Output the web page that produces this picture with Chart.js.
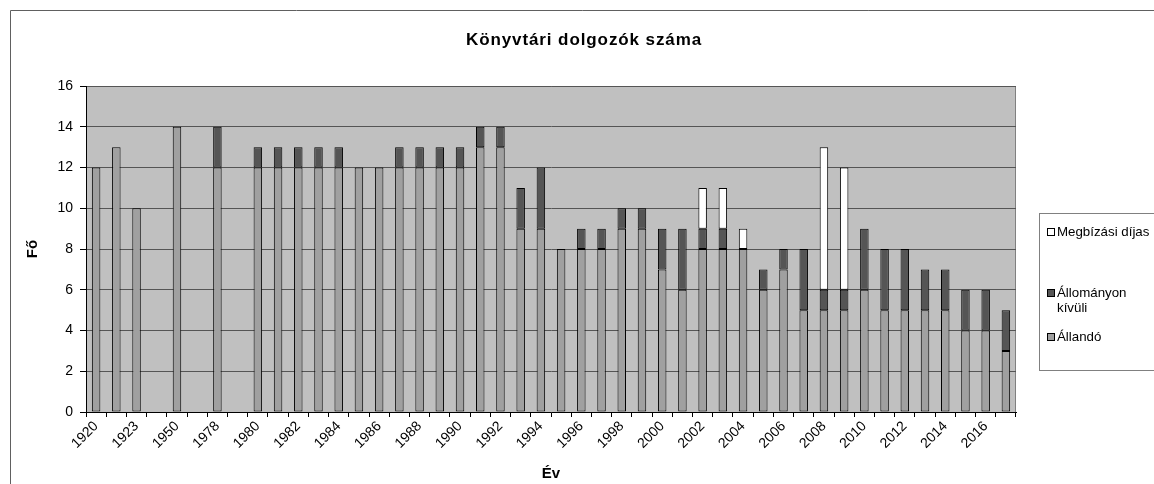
<!DOCTYPE html>
<html>
<head>
<meta charset="utf-8">
<script src="https://cdn.jsdelivr.net/npm/chart.js@4"></script>
<style>
  body { margin: 0; background: #fff; }
  #wrap { width: 1154px; height: 484px; }
</style>
</head>
<body>
<div id="wrap"><canvas id="chart" width="1154" height="484"></canvas></div>
<script>
const chartTitle = "Könyvtári dolgozók száma";

// years (unlabelled gaps in the original sheet kept as blank categories)
const years = ["1920", "1921", "1923", "", "1950", "", "1978", "",
  "1980", "1981", "1982", "1983", "1984", "1985", "1986", "1987", "1988", "1989",
  "1990", "1991", "1992", "1993", "1994", "1995", "1996", "1997", "1998", "1999",
  "2000", "2001", "2002", "2003", "2004", "2005", "2006", "2007", "2008", "2009",
  "2010", "2011", "2012", "2013", "2014", "2015", "2016", "2017"];

const allando = [12, 13, 10, null, 14, null, 12, null,
  12, 12, 12, 12, 12, 12, 12, 12, 12, 12,
  12, 13, 13, 9, 9, 8, 8, 8, 9, 9,
  7, 6, 8, 8, 8, 6, 7, 5, 5, 5,
  6, 5, 5, 5, 5, 4, 4, 3];

const kivuli = [null, null, null, null, null, null, 2, null,
  1, 1, 1, 1, 1, null, null, 1, 1, 1,
  1, 1, 1, 2, 3, null, 1, 1, 1, 1,
  2, 3, 1, 1, null, 1, 1, 3, 1, 1,
  3, 3, 3, 2, 2, 2, 2, 2];

const megbizasi = [null, null, null, null, null, null, null, null,
  null, null, null, null, null, null, null, null, null, null,
  null, null, null, null, null, null, null, null, null, null,
  null, null, 2, 2, 1, null, null, null, 7, 6,
  null, null, null, null, null, null, null, null];

const yTicks = [0, 2, 4, 6, 8, 10, 12, 14, 16];

const FONT = "'Liberation Sans', Arial, sans-serif";

// plot background, outer frame and title
const backdrop = {
  id: "backdrop",
  beforeDraw(chart) {
    const { ctx, chartArea: a } = chart;
    ctx.save();
    ctx.fillStyle = "#c0c0c0";
    ctx.fillRect(a.left, a.top, a.right - a.left, a.bottom - a.top);
    ctx.strokeStyle = "#808080";
    ctx.lineWidth = 1;
    ctx.beginPath();
    ctx.moveTo(a.left, a.top + 0.5);
    ctx.lineTo(a.right - 0.5, a.top + 0.5);
    ctx.lineTo(a.right - 0.5, a.bottom);
    ctx.stroke();

    ctx.strokeStyle = "#606060";
    ctx.beginPath();
    ctx.moveTo(10.5, chart.height);
    ctx.lineTo(10.5, 10.5);
    ctx.lineTo(chart.width, 10.5);
    ctx.stroke();

    ctx.fillStyle = "#000";
    ctx.font = "bold 17px " + FONT;
    ctx.letterSpacing = "0.9px";
    ctx.textAlign = "center";
    ctx.textBaseline = "middle";
    ctx.fillText(chartTitle, 584, 40);
    ctx.restore();
  }
};

// Excel-like legend box on the right
const boxLegend = {
  id: "boxLegend",
  afterDraw(chart) {
    const { ctx } = chart;
    const rowsY = [232, 293, 337];
    ctx.save();
    ctx.strokeStyle = "#808080";
    ctx.lineWidth = 1;
    ctx.strokeRect(1039.5, 213.5, 130, 157);
    ctx.font = "13.3px " + FONT;
    ctx.textBaseline = "middle";
    ctx.textAlign = "left";
    const sets = chart.data.datasets.slice().reverse();
    sets.forEach((ds, i) => {
      const y = rowsY[i];
      ctx.fillStyle = ds.backgroundColor;
      ctx.fillRect(1047.5, y - 3.5, 7, 7);
      ctx.strokeStyle = "#000";
      ctx.strokeRect(1047.5, y - 3.5, 7, 7);
      ctx.fillStyle = "#000";
      // simple word wrap
      const words = ds.label.split(" ");
      let line = "", ly = y;
      words.forEach(w => {
        const test = line ? line + " " + w : w;
        if (line && ctx.measureText(test).width > 96) {
          ctx.fillText(line, 1057, ly);
          line = w;
          ly += 15;
        } else {
          line = test;
        }
      });
      ctx.fillText(line, 1057, ly);
    });
    ctx.restore();
  }
};

const ctx = document.getElementById("chart").getContext("2d");

new Chart(ctx, {
  type: "bar",
  data: {
    labels: years,
    datasets: [
      {
        label: "Állandó",
        data: allando,
        backgroundColor: "#a0a0a0"
      },
      {
        label: "Állományon kívüli",
        data: kivuli,
        backgroundColor: "#555555"
      },
      {
        label: "Megbízási díjas",
        data: megbizasi,
        backgroundColor: "#ffffff"
      }
    ]
  },
  options: {
    responsive: false,
    animation: false,
    events: [],
    layout: { padding: { left: 20, right: 138, top: 86, bottom: 0 } },
    datasets: {
      bar: {
        barPercentage: 0.42,
        categoryPercentage: 1,
        borderColor: "#000",
        borderWidth: 1,
        borderSkipped: false
      }
    },
    plugins: {
      legend: { display: false },
      title: { display: false },
      tooltip: { enabled: false }
    },
    scales: {
      x: {
        stacked: true,
        afterFit: s => { s.height = 72; },
        grid: {
          drawOnChartArea: false,
          drawTicks: true,
          tickLength: 5,
          color: "#000",
          offset: true
        },
        border: { color: "#000" },
        ticks: {
          autoSkip: false,
          minRotation: 45,
          maxRotation: 45,
          padding: 1,
          color: "#000",
          font: { family: FONT, size: 14 },
          callback: function (val, i) {
            return i % 2 === 0 ? this.getLabelForValue(val) : "";
          }
        },
        title: {
          display: true,
          text: "Év",
          color: "#000",
          font: { family: FONT, size: 15, weight: "bold" },
          padding: { top: 0, bottom: 1 }
        }
      },
      y: {
        stacked: true,
        min: 0,
        max: 16,
        afterFit: s => { s.width = 66; },
        afterBuildTicks: s => { s.ticks = yTicks.map(v => ({ value: v })); },
        grid: {
          color: "#555",
          tickLength: 6,
          tickColor: "#000"
        },
        border: { color: "#000" },
        ticks: {
          padding: 7,
          color: "#000",
          font: { family: FONT, size: 14 }
        },
        title: {
          display: true,
          text: "Fő",
          color: "#000",
          font: { family: FONT, size: 15, weight: "bold" },
          padding: { top: 4, bottom: 0 }
        }
      }
    }
  },
  plugins: [backdrop, boxLegend]
});
</script>
</body>
</html>
